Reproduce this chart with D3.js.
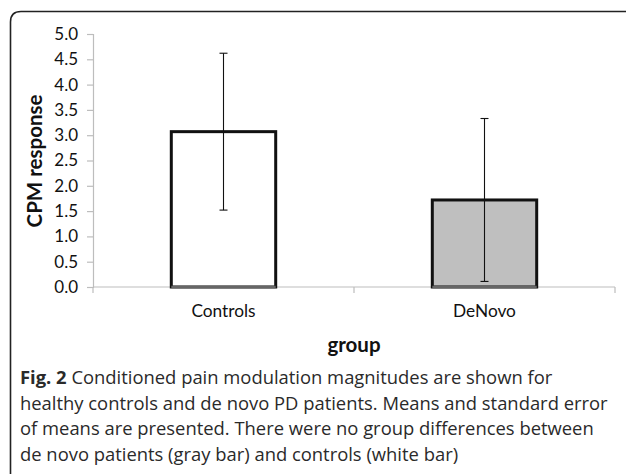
<!DOCTYPE html>
<html>
<head>
<meta charset="utf-8">
<script src="https://cdn.jsdelivr.net/npm/d3@7"></script>
<style>
  body { margin: 0; background: #fff; }
  svg { display: block; }
</style>
</head>
<body>
<div id="chart"></div>
<script>
// Data
const groups = ["Controls", "DeNovo"];
const means = [3.07, 1.72];
const errors = [1.55, 1.61];
const fills = ["#ffffff", "#bfbfbf"];
const yTicks = [0, 0.5, 1, 1.5, 2, 2.5, 3, 3.5, 4, 4.5, 5];
const captionLines = [
  ["Fig. 2", " Conditioned pain modulation magnitudes are shown for"],
  ["", "healthy controls and de novo PD patients. Means and standard error"],
  ["", "of means are presented. There were no group differences between"],
  ["", "de novo patients (gray bar) and controls (white bar)"]
];

const W = 627, H = 474;
const margin = {top: 34, right: 12, bottom: 187, left: 93};
const width = W - margin.left - margin.right;
const height = H - margin.top - margin.bottom;

const svg = d3.select("#chart").append("svg")
    .attr("width", W)
    .attr("height", H);

// Outer frame (rounded top-left, runs off right and bottom)
svg.append("path")
    .attr("d", "M10.5,490 L10.5,22 Q10.5,11.5 21,11.5 L626,11.5")
    .attr("fill", "none")
    .attr("stroke", "#222")
    .attr("stroke-width", 1.6);

const g = svg.append("g")
    .attr("transform", `translate(${margin.left},${margin.top})`);

const x = d3.scaleBand().domain(groups).range([0, width]).paddingInner(0.6).paddingOuter(0.3);
const y = d3.scaleLinear().domain([0, 5]).range([height, 0]);

const font = "Lato, 'Open Sans', sans-serif";

// Y axis
const yAxis = g.append("g")
    .call(d3.axisLeft(y).tickValues(yTicks).tickFormat(d3.format(".1f")).tickSize(6).tickPadding(9));
yAxis.select(".domain").attr("stroke", "#bdbdbd").attr("stroke-width", 1.2);
yAxis.selectAll(".tick line").attr("stroke", "#bdbdbd").attr("stroke-width", 1.2);
yAxis.selectAll(".tick text")
    .attr("fill", "#111")
    .style("font-family", font)
    .style("font-size", "17px");

// X axis: boundaries between categories get ticks
const xAxisG = g.append("g").attr("transform", `translate(0,${height})`);
xAxisG.append("line")
    .attr("x1", 0).attr("x2", width)
    .attr("stroke", "#bdbdbd").attr("stroke-width", 1.2);
const bounds = [0, width / 2, width];
xAxisG.selectAll(".xtick").data(bounds).enter().append("line")
    .attr("x1", d => d).attr("x2", d => d)
    .attr("y1", 0).attr("y2", 6)
    .attr("stroke", "#bdbdbd").attr("stroke-width", 1.2);
xAxisG.selectAll(".xlab").data(groups).enter().append("text")
    .attr("x", d => x(d) + x.bandwidth() / 2)
    .attr("y", 30)
    .attr("text-anchor", "middle")
    .attr("fill", "#111")
    .style("font-family", font)
    .style("font-size", "17.3px")
    .text(d => d);

// Bars
g.selectAll(".bar").data(groups).enter().append("rect")
    .attr("x", d => x(d))
    .attr("y", (d, i) => y(means[i]))
    .attr("width", x.bandwidth())
    .attr("height", (d, i) => y(0) - y(means[i]))
    .attr("fill", (d, i) => fills[i])
    .attr("stroke", "#111")
    .attr("stroke-width", 3);

// Bar bottoms sit on a gray edge
g.selectAll(".base").data(groups).enter().append("line")
    .attr("x1", d => x(d)).attr("x2", d => x(d) + x.bandwidth())
    .attr("y1", height).attr("y2", height)
    .attr("stroke", "#666").attr("stroke-width", 2.5);

// Error bars
const err = g.selectAll(".err").data(groups).enter().append("g")
    .attr("transform", d => `translate(${x(d) + x.bandwidth() / 2},0)`);
err.append("line")
    .attr("y1", (d, i) => y(means[i] + errors[i]))
    .attr("y2", (d, i) => y(means[i] - errors[i]))
    .attr("stroke", "#111").attr("stroke-width", 1.1);
[1, -1].forEach(s => {
  err.append("line")
      .attr("x1", -4).attr("x2", 4)
      .attr("y1", (d, i) => y(means[i] + s * errors[i]))
      .attr("y2", (d, i) => y(means[i] + s * errors[i]))
      .attr("stroke", "#111").attr("stroke-width", 1.1);
});

// Axis titles
svg.append("text")
    .attr("transform", `translate(42,161) rotate(-90)`)
    .attr("text-anchor", "middle")
    .attr("fill", "#111")
    .style("font-family", font)
    .style("font-weight", "bold")
    .style("font-size", "20.5px")
    .text("CPM response");

svg.append("text")
    .attr("x", 354)
    .attr("y", 352)
    .attr("text-anchor", "middle")
    .attr("fill", "#111")
    .style("font-family", font)
    .style("font-weight", "bold")
    .style("font-size", "20.5px")
    .text("group");

// Caption: size chosen so the widest line spans the text block
const cap = svg.append("g").style("font-family", "'Open Sans', sans-serif").style("font-size", "18px");
const capTexts = captionLines.map((ln, i) => {
  const t = cap.append("text")
      .attr("x", 20)
      .attr("y", 384 + i * 25.5)
      .attr("fill", "#2a2a2a");
  if (ln[0]) t.append("tspan").style("font-weight", "bold").text(ln[0]);
  t.append("tspan").text(ln[1]);
  return t;
});
const w2 = capTexts[1].node().getComputedTextLength();
cap.style("font-size", (18 * 588 / w2).toFixed(2) + "px");
</script>
</body>
</html>
